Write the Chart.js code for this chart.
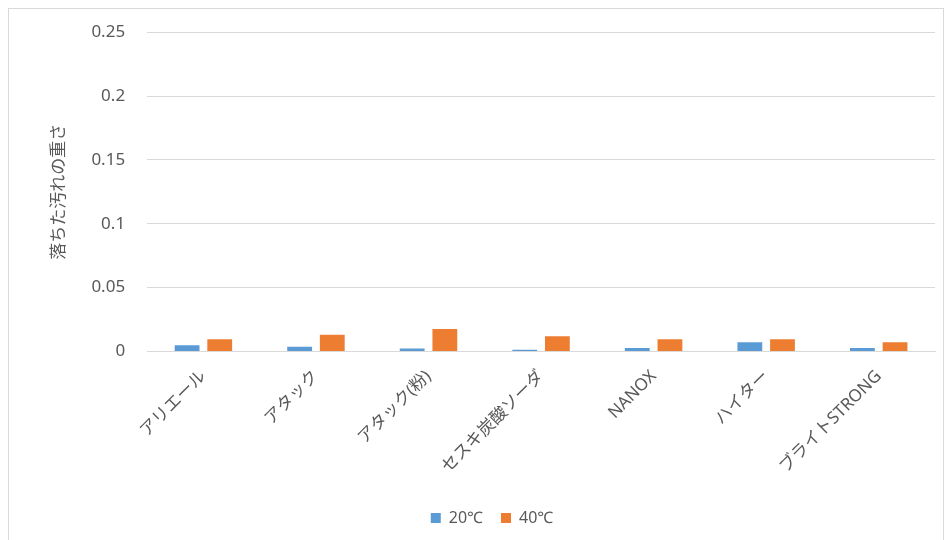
<!DOCTYPE html>
<html>
<head>
<meta charset="utf-8">
<script src="https://cdn.jsdelivr.net/npm/chart.js@4"></script>
<style>
    body { margin: 0; background: #fff; }
    #wrap { position: relative; width: 949px; height: 540px; }
    #frame { position: absolute; left: 8px; top: 8px; width: 936px; height: 540px; border: 1px solid #d9d9d9; box-sizing: border-box; pointer-events: none; }
</style>
</head>
<body>
<div id="wrap">
    <canvas id="chart" width="949" height="540"></canvas>
    <div id="frame"></div>
</div>
<script>
// data
const categories = ["アリエール", "アタック", "アタック(粉)", "セスキ炭酸ソーダ", "NANOX", "ハイター", "ブライトSTRONG"];
const temp20 = [0.0049, 0.0036, 0.0023, 0.0013, 0.0026, 0.0072, 0.0026];
const temp40 = [0.0095, 0.013, 0.0176, 0.0119, 0.0095, 0.0095, 0.0072];
const seriesNames = ["20℃", "40℃"];
const yTitle = "落ちた汚れの重さ";

const fontFamily = '"Noto Sans", "Noto Sans CJK JP", sans-serif';
const textColor = "#595959";

const ctx = document.getElementById("chart").getContext("2d");

new Chart(ctx, {
    type: "bar",
    data: {
        labels: categories,
        datasets: [
            { label: seriesNames[0], data: temp20, backgroundColor: "#5b9bd5" },
            { label: seriesNames[1], data: temp40, backgroundColor: "#ed7d31" }
        ]
    },
    options: {
        responsive: false,
        animation: false,
        categoryPercentage: 0.58,
        barPercentage: 0.76,
        layout: { padding: { left: 49, right: 14, top: 20, bottom: 4 } },
        plugins: {
            legend: {
                position: "bottom",
                labels: {
                    boxWidth: 10,
                    boxHeight: 10,
                    padding: 18,
                    color: textColor,
                    font: { family: fontFamily, size: 16 }
                }
            },
            tooltip: { enabled: false }
        },
        scales: {
            x: {
                grid: { display: false, drawTicks: false },
                border: { color: "#d9d9d9" },
                ticks: {
                    minRotation: 45,
                    maxRotation: 45,
                    padding: 15,
                    color: textColor,
                    font: { family: fontFamily, size: 17 }
                }
            },
            y: {
                min: 0,
                max: 0.25,
                grid: { color: "#d9d9d9", drawTicks: false },
                border: { display: false },
                ticks: {
                    stepSize: 0.05,
                    padding: 22,
                    color: textColor,
                    font: { family: fontFamily, size: 17 },
                    callback: v => String(Math.round(v * 100) / 100)
                },
                title: {
                    display: true,
                    text: yTitle,
                    color: textColor,
                    padding: { top: 0, bottom: 0 },
                    font: { family: fontFamily, size: 17 }
                }
            }
        }
    }
});
</script>
</body>
</html>
